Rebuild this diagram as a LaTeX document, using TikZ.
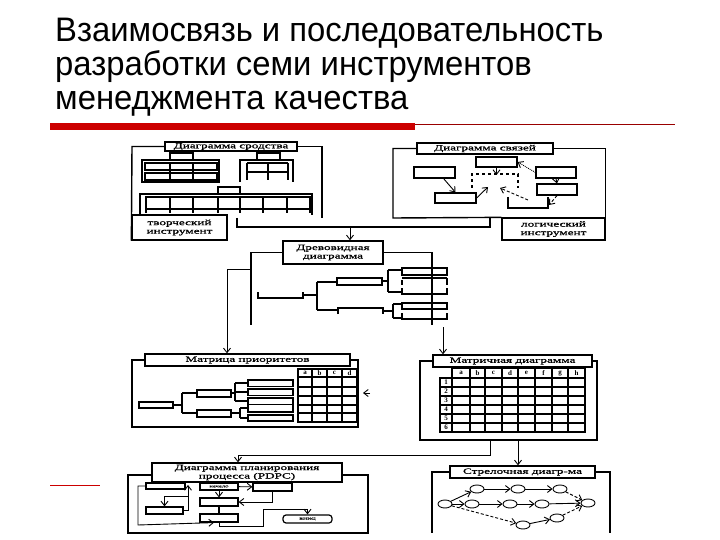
\documentclass[tikz,border=0pt]{standalone}
\usepackage{fontspec}
\setmainfont{Liberation Serif}
\newfontfamily\ttlfont{Liberation Sans}[FakeStretch=0.965]
\newfontfamily\lblfont{Liberation Serif}[FakeStretch=1.65,FakeBold=1.2]
\usetikzlibrary{arrows.meta,shapes.geometric}
\definecolor{barred}{RGB}{204,0,0}

\begin{document}
\begin{tikzpicture}
      [x=1pt,y=-1pt,%%%%%%%%%%%%%%%%%%%%%%%%%%%%%%
      ttl/.style={inner sep=0pt, anchor=base west, font=\ttlfont\fontsize{34}{34}\selectfont},
      lbl/.style={draw=black, line width=1.3pt, fill=white, inner sep=0pt, align=center,
                  font=\lblfont\fontsize{8}{8.5}\selectfont},
      frm/.style={line width=1.4pt},
      cell/.style={line width=1.2pt},
      blk/.style={draw=black, line width=1.2pt, fill=white, inner sep=0pt,
                  font=\lblfont\fontsize{4}{4}\selectfont},
      ev/.style={ellipse, draw=black, line width=0.9pt, minimum width=14pt, minimum height=8pt, inner sep=0pt},
      arr/.style={-{Straight Barb[length=4.5pt,width=7pt]}, line width=0.9pt},
      sml/.style={inner sep=0pt, font=\bfseries\fontsize{7}{7}\selectfont},
      ]%%%%%%%%%%%%%%%%%%%%%%%%%%%%%%
      \useasboundingbox (0,0) rectangle (720,540);
      \fill[white] (0,0) rectangle (720,540);

      % title
      \node[ttl] (ttlA) at (55,42) {Взаимосвязь и последовательность};
      \node[ttl] (ttlB) at (55,76) {разработки семи инструментов};
      \node[ttl] (ttlC) at (55,110) {менеджмента качества};
      \fill[barred] (50,123) rectangle (415,130);
      \draw[barred!75!black, line width=0.6pt] (415,124) -- (675,124);
      \draw[barred, line width=0.9pt] (50,485) -- (100,485);

      % diagramma srodstva
      \node[lbl, minimum width=132, minimum height=9] (sro) at (231,146.5) {Диаграмма сродства};
      \node[lbl, minimum width=95, minimum height=25] (tvi) at (179.5,227.5) {творческий\\инструмент};
      \draw[frm] (tvi.south west) -- (132,146.5) -- (sro.west);
      \draw[frm] (sro.east) -| (322,218);
      \draw[cell] (170,153) rectangle (193,160);
      \draw[cell] (142,160) rectangle (219,182);
      \draw[cell] (145,163) rectangle (217,170);
      \draw[cell] (145,173) rectangle (217,180);
      \foreach \x in {170,193} \draw[cell] (\x,163) -- (\x,180);
      \draw[cell] (257,153) rectangle (280,160);
      \draw[cell] (240,182) -- (240,160) -- (293,160) -- (293,182);
      \draw[cell] (247,163) -- (288,163) (247,172) -- (288,172);
      \foreach \x in {247,268,288} \draw[cell] (\x,163) -- (\x,180);
      \draw[cell] (218,187) rectangle (240,194);
      \draw[cell] (140,215) -- (140,194) -- (312,194) -- (312,215);
      \draw[cell] (146,197) rectangle (310,209);
      \foreach \x in {146,170,193,218,240,263,287,310} \draw[cell] (\x,197) -- (\x,213);

      % diagramma svyazey
      \node[lbl, minimum width=136, minimum height=11] (svz) at (485,148.5) {Диаграмма связей};
      \node[lbl, minimum width=103, minimum height=22] (log) at (553.5,229) {логический\\инструмент};
      \draw[frm] (svz.west) -| (393,218) -- (log.north west);
      \draw[frm] (svz.east) -| (log.north east);
      \node[blk, minimum width=41, minimum height=10] (rA) at (496.5,162) {};
      \node[blk, minimum width=41, minimum height=11] (rB) at (434.5,172.5) {};
      \node[blk, minimum width=40, minimum height=11] (rC) at (556,172.5) {};
      \node[blk, minimum width=41, minimum height=10] (rD) at (455.5,198) {};
      \node[blk, minimum width=40, minimum height=11] (rE) at (557,189.5) {};
      \draw[cell, dashed] (472,188) -- (472,174) -- (518,174) -- (518,188);
      \draw[cell] (508,197) -- (508,208) -- (548,208) -- (548,197);
      \coordinate (dA) at (488,187);
      \coordinate (dB) at (496.5,175);
      \coordinate (dC) at (549,205);
      \coordinate (dF) at (528,200);
      \coordinate (dG) at (500,188);
      \draw[arr] ([xshift=-12]rB.south east) -- (rD.north);
      \draw[arr] (rD.east) -- (dA);
      \draw[arr] (rA.south) -- (dB);
      \draw[arr, densely dotted] (rC.west) -- (rA.east);
      \draw[arr] (rC.south) -- (rE.north);
      \draw[arr, densely dashed] (rE.south) -- (dC);
      \draw[arr, densely dashed] (dF) -- (dG);

      % to drevovidnaya
      \coordinate (jl) at (237,218);
      \coordinate (jr) at (490,218);
      \coordinate (jt) at (350,227);
      \draw[frm] (jl) -- (237,227) -- (490,227) -- (jr);
      \node[lbl, minimum width=100, minimum height=23] (drv) at (333,252.5) {Древовидная\\диаграмма};
      \draw[frm, arr] (jt) -- (jt |- drv.north);
      \draw[frm] (drv.west) -| (251,325);
      \draw[frm] (drv.east) -| (432,325);
      \draw[cell] (258,292) -- (258,298) -- (303,298) -- (303,292);
      \draw[cell] (303,295) -- (317,295) (317,282) -- (317,310);
      \draw[cell] (317,282) -- (337,282) (317,310) -- (338,310);
      \draw[cell] (337,278) rectangle (382,285);
      \draw[cell] (338,314) -- (338,308) -- (383,308) -- (383,314);
      \draw[cell] (383,311) -- (393,311) (393,304) -- (393,318);
      \draw[cell] (393,304) -- (402,304) (393,318) -- (402,318);
      \draw[cell] (402,303) rectangle (447,309);
      \draw[cell] (402,313) -- (402,319) -- (447,319) -- (447,313);
      \draw[cell] (382,281) -- (388,281) (388,270) -- (388,292);
      \draw[cell] (388,270) -- (402,270) (388,292) -- (402,292);
      \draw[cell] (402,268) rectangle (447,275);
      \draw[cell] (402,278) -- (447,278) (447,278) -- (447,285) (402,280) -- (402,285);
      \draw[cell] (402,288) -- (402,294) -- (447,294) -- (447,288);

      % matrica prioritetov
      \node[lbl, minimum width=205, minimum height=12] (mpr) at (247.5,360) {Матрица приоритетов};
      \draw[frm, arr] (251,269) -| ([xshift=-20.5]mpr.north);
      \draw[frm] (mpr.west) -| (132,427) -| (358,360) -- (mpr.east);
      \draw[arr] (370,393) -- (363,393);
      \draw[cell] (139,402) rectangle (173,408);
      \draw[cell] (173,405) -- (182,405) (182,393) -- (182,413);
      \draw[cell] (182,393) -- (197,393) (182,413) -- (197,413);
      \draw[cell] (197,390) rectangle (231,397);
      \draw[cell] (197,410) rectangle (231,417);
      \draw[cell] (231,393) -- (235,393) (235,383) -- (235,401);
      \foreach \y in {380,389,398} {
        \draw[cell] (248,\y) rectangle (293,\y+6.5);
        \draw[cell] (235,\y+3) -- (248,\y+3);
      }
      \draw[cell] (231,413) -- (240,413) (240,408) -- (240,418);
      \draw[cell] (240,408) -- (248,408) (240,418) -- (248,418);
      \draw[cell] (248,405) -- (248,412) -- (293,412) -- (293,405);
      \draw[cell] (248,415) rectangle (293,421);
      \draw[cell] (298,369) rectangle (357,422);
      \foreach \x in {312,327,342} \draw[line width=1.8pt] (\x,369) -- (\x,422);
      \foreach \y in {377,387,396,405,413} \draw[cell] (298,\y) -- (357,\y);
      \foreach \l/\x in {a/305,b/319.5,c/334.5,d/349.5} \node[sml] at (\x,373) {\l};

      % matrichnaya diagramma
      \node[lbl, minimum width=159, minimum height=12] (mdg) at (512.5,361) {Матричная диаграмма};
      \coordinate (mr) at (443,327);
      \draw[frm, arr] (mr) -- (mr |- mdg.north);
      \draw[frm] (mdg.west) -| (420,440) -| (597,361) -- (mdg.east);
      \draw[cell] (452,368) rectangle (585,432);
      \draw[cell] (440,378) rectangle (452,432);
      \draw[cell] (452,378) -- (585,378);
      \foreach \x in {470,485,502,518,535,552,568} \draw[line width=1.6pt] (\x,368) -- (\x,432);
      \foreach \y in {387,396,405,414,423} \draw[cell] (440,\y) -- (585,\y);
      \foreach \l/\x in {a/461,b/477.5,c/493.5,d/510,e/526.5,f/543.5,g/560,h/576.5} \node[sml] at (\x,373) {\l};
      \foreach \n in {1,...,6} \node[sml] at (446,373.5+9*\n) {\n};

      % pdpc
      \node[lbl, minimum width=190, minimum height=19] (pdpc) at (247,472.5) {Диаграмма планирования\\процесса (PDPC)};
      \coordinate (pb) at (490,440);
      \draw[frm, arr] (pb) -- (490,455) -| ([xshift=-9]pdpc.north);
      \draw[frm] (152,475) -| (128,533) -| (368,475) -- (342,475);
      \node[blk, minimum width=39, minimum height=6] (pA) at (165.5,486) {};
      \node[blk, minimum width=38, minimum height=7] (pB) at (219,486.5) {начало};
      \node[blk, minimum width=39, minimum height=8] (pC) at (272.5,487) {};
      \node[blk, minimum width=38, minimum height=8] (pD) at (219,502) {};
      \node[blk, minimum width=37, minimum height=7] (pE) at (164.5,510.5) {};
      \node[blk, minimum width=38, minimum height=8] (pF) at (219,518) {};
      \node[blk, rounded corners=3pt, minimum width=49, minimum height=8] (pR) at (307.5,519) {конец};
      \draw[arr] (pB) -- (pC);
      \draw[arr] (pC.south) |- (pD.east);
      \draw[arr] (pB.south) -- (pD.north);
      \draw[cell] (pD.south) -- (pF.north);
      \draw[arr] (pE.east) -| (188,485);
      \draw[arr] (188,496) -| (pE.north);
      \draw[arr] (pA.west) -| (138,525) -- ([xshift=-5]pF.south);
      \draw[arr] (pF.south) -- (219,526) -| (263,509) -| (pR.north);

      % strelochnaya
      \node[lbl, minimum width=145, minimum height=12] (str) at (522.5,472) {Стрелочная диагр-ма};
      \coordinate (sb) at (518,440);
      \draw[frm, arr] (sb) -- (sb |- str.north);
      \draw[frm] (str.west) -| (432,533);
      \draw[frm] (str.east) -| (610,533);
      \node[ev] (a1) at (445,504) {};
      \node[ev] (a2) at (477,489) {};
      \node[ev] (a3) at (518,489) {};
      \node[ev] (a4) at (560,489) {};
      \node[ev] (a5) at (472,504) {};
      \node[ev] (a6) at (510,504) {};
      \node[ev] (a7) at (542,504) {};
      \node[ev] (a8) at (588,503) {};
      \node[ev] (a9) at (523,525) {};
      \node[ev] (a10) at (557,518) {};
      \draw[arr] (a1) -- (a2);
      \draw[arr] (a2) -- (a3);
      \draw[arr] (a3) -- (a4);
      \draw[arr, densely dashed] (a4) -- (a8);
      \draw[arr] (a1) -- (a5);
      \draw[arr] (a5) -- (a6);
      \draw[arr] (a6) -- (a7);
      \draw[arr] (a7) -- (a8);
      \draw[arr, densely dashed] (a1) -- (a9);
      \draw[arr] (a9) -- (a10);
      \draw[arr, densely dashed] (a10) -- (a8);
\end{tikzpicture}
\end{document}
